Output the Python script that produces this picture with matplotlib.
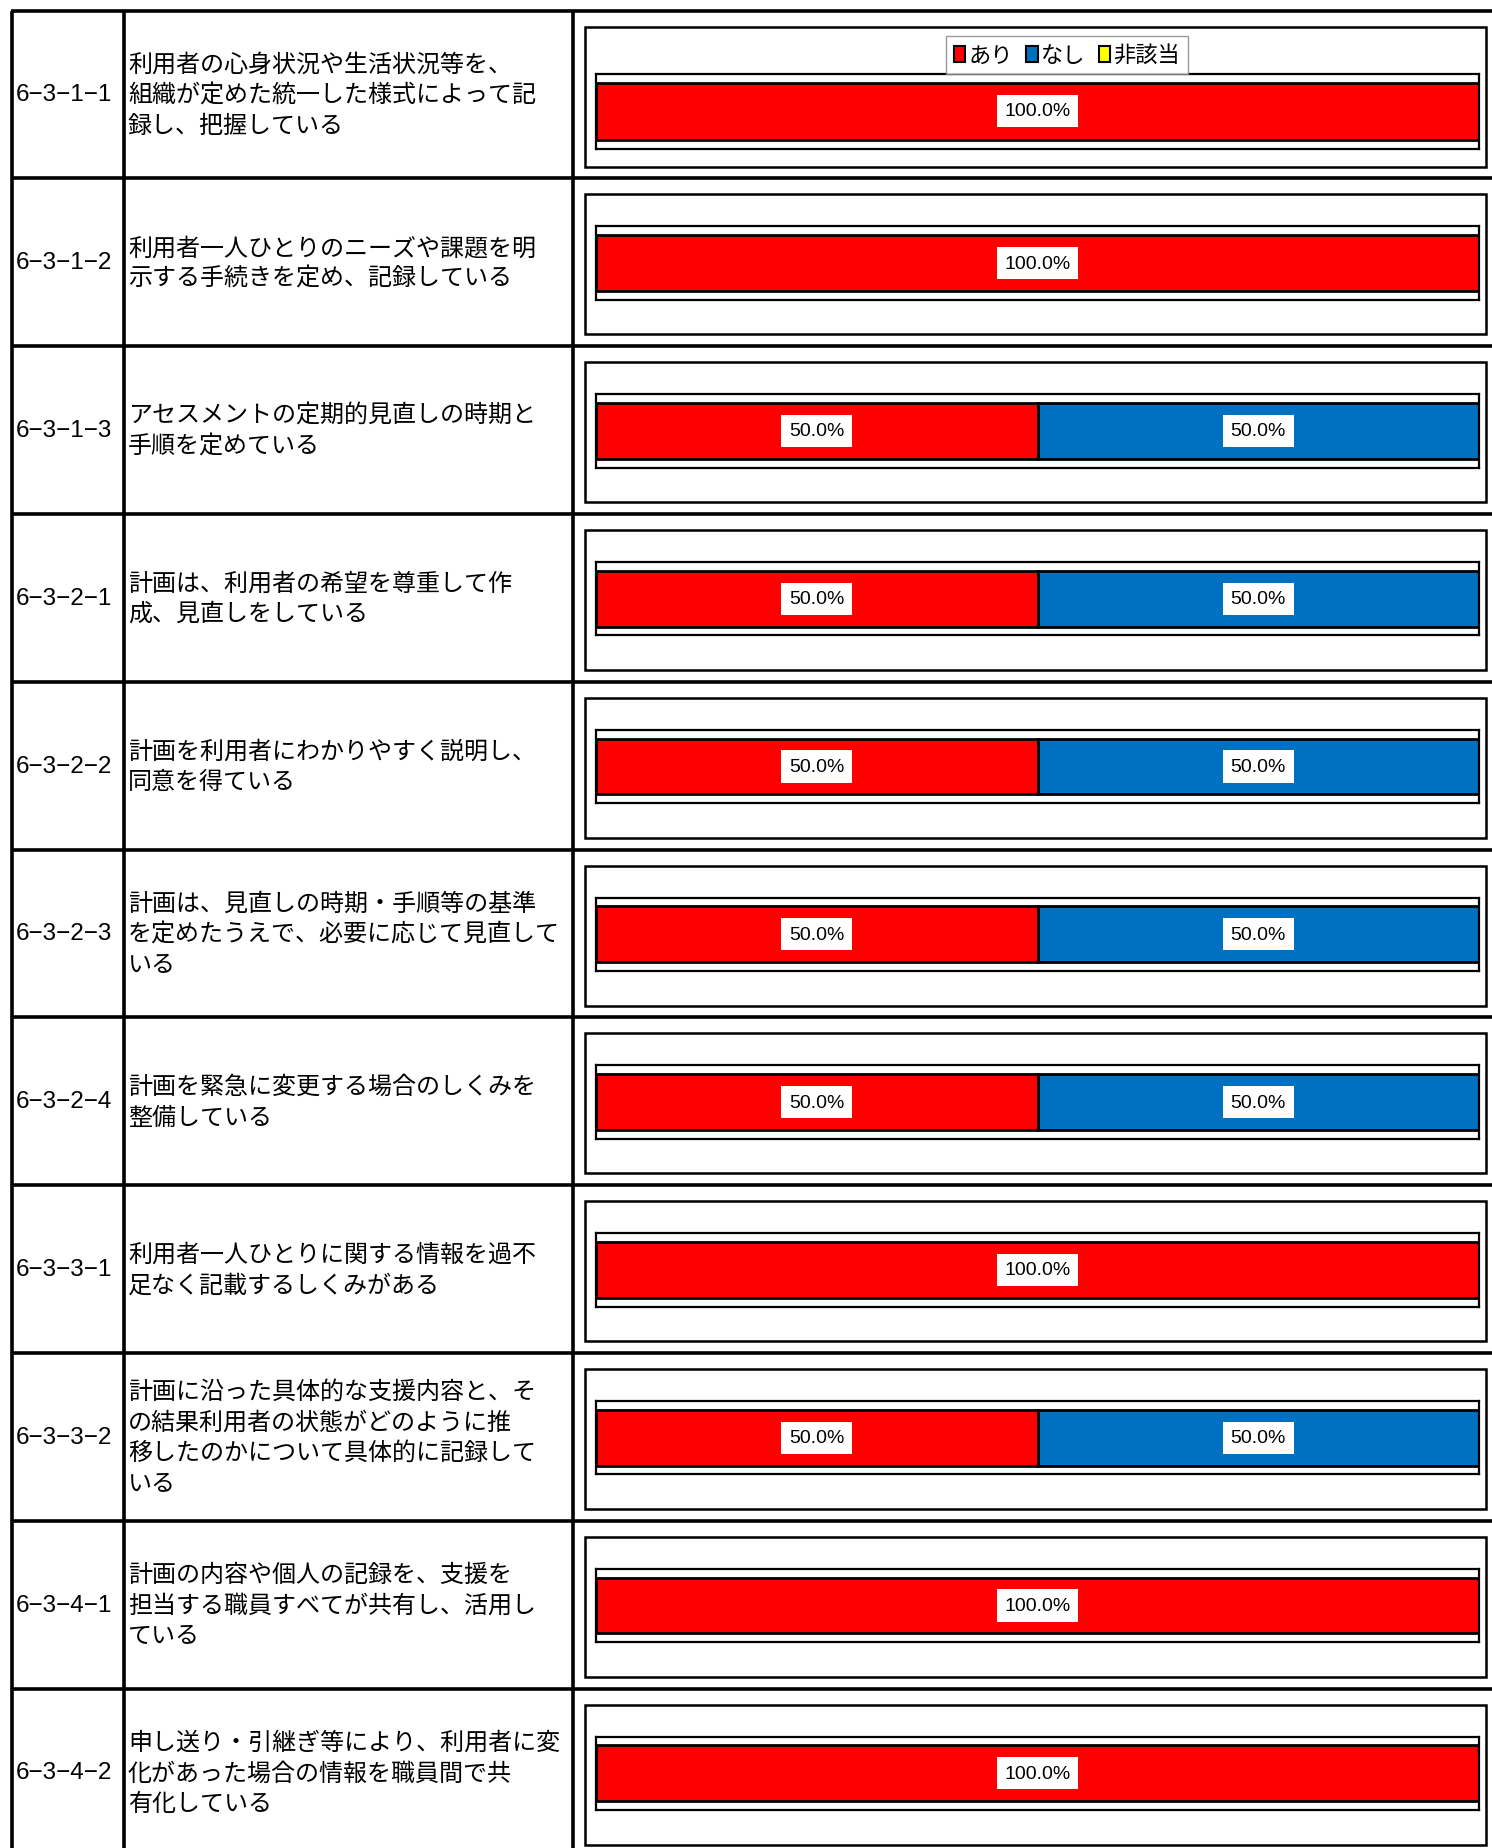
import matplotlib
matplotlib.use("Agg")
import matplotlib.pyplot as plt
from matplotlib.patches import Rectangle, Patch

plt.rcParams['font.family'] = ['Noto Sans CJK JP', 'DejaVu Sans']

codes = ['6−3−1−1', '6−3−1−2', '6−3−1−3', '6−3−2−1', '6−3−2−2', '6−3−2−3',
         '6−3−2−4', '6−3−3−1', '6−3−3−2', '6−3−4−1', '6−3−4−2']
items = [
    '利用者の心身状況や生活状況等を、\n組織が定めた統一した様式によって記\n録し、把握している',
    '利用者一人ひとりのニーズや課題を明\n示する手続きを定め、記録している',
    'アセスメントの定期的見直しの時期と\n手順を定めている',
    '計画は、利用者の希望を尊重して作\n成、見直しをしている',
    '計画を利用者にわかりやすく説明し、\n同意を得ている',
    '計画は、見直しの時期・手順等の基準\nを定めたうえで、必要に応じて見直して\nいる',
    '計画を緊急に変更する場合のしくみを\n整備している',
    '利用者一人ひとりに関する情報を過不\n足なく記載するしくみがある',
    '計画に沿った具体的な支援内容と、そ\nの結果利用者の状態がどのように推\n移したのかについて具体的に記録して\nいる',
    '計画の内容や個人の記録を、支援を\n担当する職員すべてが共有し、活用し\nている',
    '申し送り・引継ぎ等により、利用者に変\n化があった場合の情報を職員間で共\n有化している',
]
ari = [100, 100, 50, 50, 50, 50, 50, 100, 50, 100, 100]
nashi = [0, 0, 50, 50, 50, 50, 50, 0, 50, 0, 0]
higaito = [0, 0, 0, 0, 0, 0, 0, 0, 0, 0, 0]
series_names = ['あり', 'なし', '非該当']
series_colors = ['#FF0000', '#0070C0', '#FFFF00']

W, H = 1492, 1849
fig = plt.figure(figsize=(W / 100, H / 100), dpi=100)
bg = fig.add_axes([0, 0, 1, 1])
bg.set_xlim(0, W)
bg.set_ylim(H, 0)
bg.axis('off')

top = 11.5
row_h = 167.8
x_left, x_c1, x_c2 = 12, 124, 573


def fig_rect(x0, y0, x1, y1):
    return [x0 / W, 1 - y1 / H, (x1 - x0) / W, (y1 - y0) / H]


# table grid
for i in range(len(codes) + 1):
    y = top + i * row_h
    bg.plot([x_left - 1.5, W], [y, y], color='black', lw=2.6, solid_capstyle='butt')
for x in (x_left, x_c1, x_c2):
    bg.plot([x, x], [top, H], color='black', lw=2.6, solid_capstyle='butt')

for i, (code, item) in enumerate(zip(codes, items)):
    y0 = top + i * row_h
    yc = y0 + row_h / 2
    bg.text(16, yc, code, ha='left', va='center', fontsize=17.5,
            family=['Liberation Sans', 'DejaVu Sans'])
    bg.text(128, yc, item, ha='left', va='center', fontsize=17.3, linespacing=1.23)

    # chart box
    bg.add_patch(Rectangle((585, y0 + 16), 901, 140, facecolor='white',
                           edgecolor='black', lw=1.8))

    if i == 0:
        p_top, p_bot = 63, 138
    else:
        p_top, p_bot = 48, 121.5
    ax = fig.add_axes(fig_rect(596, y0 + p_top, 1479, y0 + p_bot))
    left = 0
    for vals, color in zip((ari, nashi, higaito), series_colors):
        v = vals[i]
        if v > 0:
            ax.barh(0, v, left=left, height=0.76, color=color,
                    edgecolor='black', lw=2.0)
            ax.text(left + v / 2, 0, f'{v:.1f}%', ha='center', va='center',
                    fontsize=14, family=['Liberation Sans', 'DejaVu Sans'],
                    bbox=dict(facecolor='white', edgecolor='none', pad=5.5))
        left += v
    ax.set_xlim(0, 100)
    ax.set_ylim(-0.5, 0.5)
    ax.set_xticks([])
    ax.set_yticks([])
    for s in ax.spines.values():
        s.set_linewidth(1.6)
        s.set_color('black')

    if i == 0:
        handles = [Patch(facecolor=c, edgecolor='black', lw=1.5) for c in series_colors]
        leg = ax.legend(handles, series_names, loc='center', ncol=3,
                        bbox_to_anchor=(1067 / W, 1 - 56 / H),
                        bbox_transform=fig.transFigure,
                        fontsize=16, frameon=True, fancybox=False,
                        handlelength=0.5, handleheight=0.7, handletextpad=0.15,
                        columnspacing=0.6, borderpad=0.35, borderaxespad=0)
        leg.get_frame().set_edgecolor('#808080')
        leg.get_frame().set_linewidth(1.0)

fig.savefig('out.png', dpi=100, facecolor='white')
